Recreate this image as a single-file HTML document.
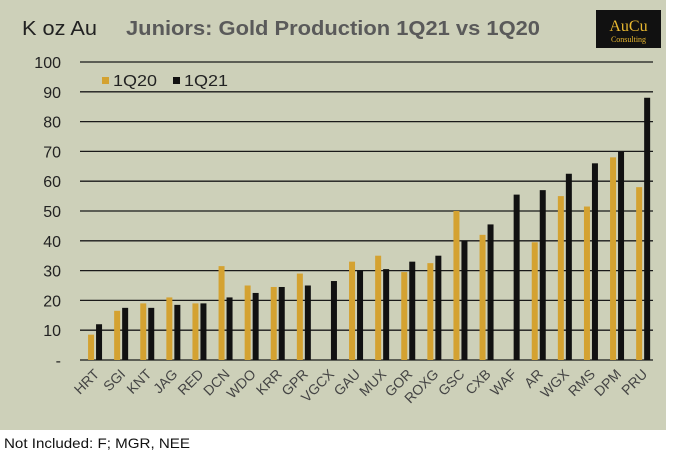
<!DOCTYPE html>
<html><head><meta charset="utf-8"><style>
body{margin:0;background:#fff;width:681px;height:456px;overflow:hidden;font-family:"Liberation Sans",sans-serif}
</style></head><body>
<svg width="681" height="456">
<rect x="0" y="0" width="666" height="430" fill="#cdd0b9"/>
<text x="22" y="35" font-size="20" fill="#222" textLength="75" lengthAdjust="spacingAndGlyphs">K oz Au</text>
<text x="126" y="35" font-size="20" font-weight="bold" fill="#5a5a5a" textLength="414" lengthAdjust="spacingAndGlyphs">Juniors:  Gold Production  1Q21 vs 1Q20</text>
<g>
<rect x="596" y="10" width="65" height="38" fill="#111"/>
<text x="628.5" y="31" font-size="16" fill="#e8b830" text-anchor="middle" font-family="Liberation Serif,serif">AuCu</text>
<text x="628.5" y="42" font-size="8" fill="#e8b830" text-anchor="middle" font-family="Liberation Serif,serif">Consulting</text>
</g>
<g id="grid"></g><g id="bars"></g><g id="labels"></g>
<g>
<rect x="102" y="77" width="7" height="7" fill="#d4a231"/>
<text x="113" y="86" font-size="16" fill="#222" textLength="44" lengthAdjust="spacingAndGlyphs">1Q20</text>
<rect x="173" y="77" width="7" height="7" fill="#111"/>
<text x="184" y="86" font-size="16" fill="#222" textLength="44" lengthAdjust="spacingAndGlyphs">1Q21</text>
</g>
<text x="4" y="448" font-size="14" fill="#111" textLength="186" lengthAdjust="spacingAndGlyphs">Not Included: F; MGR, NEE</text>
</svg>
<script>
const categories=["HRT","SGI","KNT","JAG","RED","DCN","WDO","KRR","GPR","VGCX","GAU","MUX","GOR","ROXG","GSC","CXB","WAF","AR","WGX","RMS","DPM","PRU"];
const q20=[8.5,16.5,19,21,19,31.5,25,24.5,29,0,33,35,29.5,32.5,50,42,0,39.5,55,51.5,68,58];
const q21=[12,17.5,17.5,18.5,19,21,22.5,24.5,25,26.5,30,30.5,33,35,40,45.5,55.5,57,62.5,66,70,88];
const yTicks=[0,10,20,30,40,50,60,70,80,90,100];
const NS="http://www.w3.org/2000/svg";
const x0=82,slot=26.1,yZero=360,yTop=62;
const y=v=>yZero-(v/100)*(yZero-yTop);
const cx=i=>x0+slot*(i+0.5);
const grid=document.getElementById('grid'),bars=document.getElementById('bars'),labels=document.getElementById('labels');
function mk(t,a,p){const e=document.createElementNS(NS,t);for(const k in a)e.setAttribute(k,a[k]);p.appendChild(e);return e;}
yTicks.forEach(v=>{
 const l=mk('line',{x1:80,x2:653,y1:y(v),y2:y(v),stroke:'#1a1a1a','stroke-width':1.3},grid);
 
 
 const t=mk('text',{x:61,y:y(v)+6,'font-size':16,fill:'#222','text-anchor':'end'},grid);
 t.textContent=v===0?'-':v;
 
 
});
categories.forEach((c,i)=>{
 if(q20[i]>0){const b=mk('rect',{x:cx(i)-7,y:y(q20[i]),width:6,height:yZero-y(q20[i]),fill:'#d4a231'},bars);
 
 }
 const b2=mk('rect',{x:cx(i)+1,y:y(q21[i]),width:6,height:yZero-y(q21[i]),fill:'#111'},bars);
 
 
 const t=mk('text',{x:0,y:0,'font-size':14,fill:'#444','text-anchor':'end',transform:`translate(${cx(i)+5},${yZero+15}) rotate(-45)`},labels);
 t.textContent=c;
 
 
});
</script>
</body></html>
